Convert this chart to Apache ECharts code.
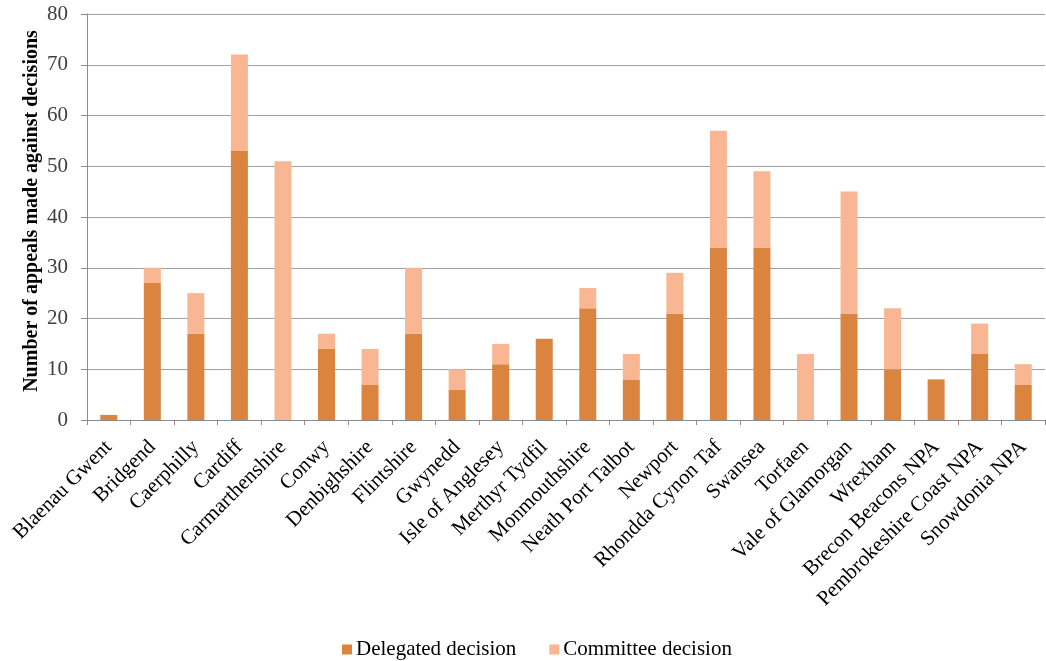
<!DOCTYPE html>
<html>
<head>
<meta charset="utf-8">
<title>Appeals made against decisions</title>
<script src="https://cdn.jsdelivr.net/npm/echarts@6/dist/echarts.min.js"></script>
<style>
  html, body { margin: 0; padding: 0; background: #fff; }
  #chart { width: 1046px; height: 661px; }
</style>
</head>
<body>
<div id="chart"></div>
<script>
// Planning authorities
const authorities = [
  'Blaenau Gwent', 'Bridgend', 'Caerphilly', 'Cardiff', 'Carmarthenshire',
  'Conwy', 'Denbighshire', 'Flintshire', 'Gwynedd', 'Isle of Anglesey',
  'Merthyr Tydfil', 'Monmouthshire', 'Neath Port Talbot', 'Newport',
  'Rhondda Cynon Taf', 'Swansea', 'Torfaen', 'Vale of Glamorgan', 'Wrexham',
  'Brecon Beacons NPA', 'Pembrokeshire Coast NPA', 'Snowdonia NPA'
];

// Appeals against delegated decisions
const delegated = [1, 27, 17, 53, 0, 14, 7, 17, 6, 11, 16, 22, 8, 21, 34, 34, 0, 21, 10, 8, 13, 7];

// Appeals against committee decisions
const committee = [0, 3, 8, 19, 51, 3, 7, 13, 4, 4, 0, 4, 5, 8, 23, 15, 13, 24, 12, 0, 6, 4];

const seriesNames = ['Delegated decision', 'Committee decision'];
const axisTitle = 'Number of appeals made against decisions';

const serif = '"Liberation Serif", "Times New Roman", serif';

const chart = echarts.init(document.getElementById('chart'), null, { renderer: 'canvas' });

chart.setOption({
  animation: false,
  textStyle: { fontFamily: serif },
  grid: { left: 87, right: 1, top: 14, bottom: 241, containLabel: false },
  legend: {
    bottom: -4,
    left: 337,
    itemWidth: 10,
    itemHeight: 10,
    itemGap: 33,
    icon: 'rect',
    textStyle: { fontFamily: serif, fontSize: 21, color: '#000', padding: [0, 0, 0, -1] },
    data: seriesNames
  },
  xAxis: {
    type: 'category',
    data: authorities,
    boundaryGap: true,
    axisLine: { lineStyle: { color: '#8c8c8c', width: 1 } },
    axisTick: { show: true, length: 5, lineStyle: { color: '#8c8c8c' } },
    axisLabel: {
      interval: 0,
      rotate: 45,
      margin: 24,
      fontFamily: serif,
      fontSize: 21,
      color: '#000'
    }
  },
  yAxis: {
    type: 'value',
    min: 0,
    max: 80,
    interval: 10,
    name: axisTitle,
    nameLocation: 'middle',
    nameGap: 45,
    nameMoveOverlap: false,
    nameTextStyle: {
      fontFamily: serif, fontSize: 20, fontWeight: 'bold', color: '#000',
      padding: [0, 0, 0, 12]
    },
    axisLine: { show: true, lineStyle: { color: '#8c8c8c' } },
    axisTick: { show: true, length: 6, lineStyle: { color: '#8c8c8c' } },
    axisLabel: { fontFamily: serif, fontSize: 21, color: '#404040', margin: 19 },
    splitLine: { lineStyle: { color: '#a0a0a0', width: 1 } }
  },
  series: [
    {
      name: seriesNames[0],
      type: 'bar',
      stack: 'appeals',
      barWidth: 17,
      itemStyle: { color: '#da843f' },
      data: delegated
    },
    {
      name: seriesNames[1],
      type: 'bar',
      stack: 'appeals',
      barWidth: 17,
      itemStyle: { color: '#f8b792' },
      data: committee
    }
  ]
});
</script>
</body>
</html>
